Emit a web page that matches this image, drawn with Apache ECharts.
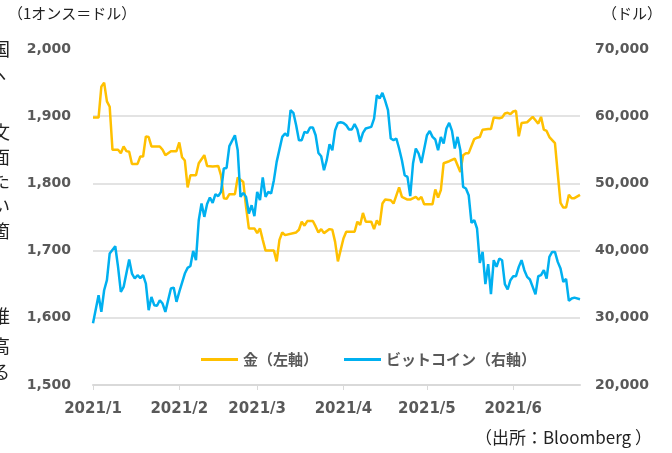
<!DOCTYPE html>
<html>
<head>
<meta charset="utf-8">
<script src="https://cdn.jsdelivr.net/npm/echarts@6/dist/echarts.min.js"></script>
<style>
  html, body { margin: 0; padding: 0; background: #fff; }
  #main { width: 672px; height: 453px; }
</style>
</head>
<body>
<div id="main"></div>
<script>
// 日数は 2021/1/1 からの経過日
var goldDays = [0,2,3,4,5,6,7,9,10,11,12,13,14,16,17,18,19,20,21,24,25,26,28,30,31,32,33,34,35,37,38,40,41,43,45,46,47,48,49,51,52,54,55,56,58,59,60,61,62,65,66,67,68,69,73,74,75,76,77,79,80,81,82,83,85,86,87,88,90,91,94,95,96,97,98,100,101,102,103,104,105,107,108,110,111,113,114,116,117,118,119,122,123,124,125,126,128,130,132,133,134,135,137,138,139,140,142,143,144,146,147,148,149,150,151,152,153,154,156,158,159,160,161,162,163,164,166,167,168,169,170,171,172,173,175];
var goldValues = [1898,1898,1944,1950,1922,1914,1850,1850,1845,1855,1848,1847,1829,1829,1840,1840,1870,1869,1855,1855,1850,1842,1848,1848,1861,1839,1834,1794,1812,1812,1830,1842,1826,1825,1826,1812,1778,1777,1784,1784,1809,1802,1765,1733,1733,1726,1733,1716,1700,1700,1684,1716,1727,1723,1727,1731,1743,1737,1744,1744,1736,1727,1732,1726,1732,1731,1713,1684,1718,1728,1728,1743,1738,1756,1743,1743,1732,1745,1738,1770,1776,1775,1770,1794,1780,1776,1776,1780,1776,1780,1769,1769,1791,1779,1790,1830,1833,1837,1817,1842,1845,1845,1866,1868,1869,1880,1881,1881,1898,1897,1898,1904,1905,1903,1907,1908,1870,1890,1891,1899,1894,1889,1899,1880,1878,1869,1860,1815,1771,1764,1764,1783,1778,1778,1783];

var btcDays = [0,2,3,4,5,6,8,9,10,11,13,14,15,16,17,18,19,20,21,22,23,24,25,26,28,29,30,31,33,34,35,36,37,38,39,40,41,42,43,44,45,46,47,48,49,51,52,53,54,55,56,57,58,59,60,61,62,63,64,65,66,68,69,70,71,72,73,74,75,76,77,78,79,80,81,82,83,84,85,86,87,88,89,90,91,92,93,94,95,96,97,98,100,101,102,103,104,105,106,107,108,109,110,111,112,113,114,115,116,117,118,120,121,122,123,124,125,126,127,128,129,130,131,132,133,134,135,136,137,138,139,140,141,142,143,144,145,146,147,148,149,150,151,152,153,154,155,156,157,158,159,160,161,162,163,164,165,166,167,168,169,170,171,172,173,175];
var btcValues = [29200,33360,30880,34100,35600,39570,40650,37580,33860,34600,38680,36590,35850,36340,35900,36340,35100,31130,33100,31880,31800,32620,32120,30880,34360,34500,32370,33860,36590,37430,37700,39960,38570,44520,47000,45020,46950,47900,47100,48400,48100,48740,52220,52300,55540,57170,54940,47990,48590,47990,45520,46750,45120,48740,47500,50880,47990,48740,48500,50480,53200,56920,57420,57040,60890,60500,58660,56430,56430,57660,57520,58320,58320,57170,54540,54050,51960,53500,55830,54940,57920,59000,59100,59000,58660,58020,58020,58810,58020,56180,57520,58170,58410,59650,63120,62630,63470,62280,60890,56680,56430,56680,55190,53450,51220,50970,48100,52960,55190,54450,53050,57170,57810,56920,56530,54940,56920,55940,58170,59000,57810,55190,56920,54940,49480,49240,48240,44120,44520,43290,38170,39810,35000,37980,33510,38570,37580,38820,38570,35000,34210,35600,36190,36190,37580,38570,37090,36090,35700,34600,33510,36190,36340,37080,35850,39070,39810,39810,38320,37330,35340,35800,32520,32870,33000,32770];

var monthStartDays = [0, 31, 59, 90, 120, 151];
var monthLabels = ['2021/1', '2021/2', '2021/3', '2021/4', '2021/5', '2021/6'];
var lastDay = 175;

// 左端で切れている隣の本文
var sideText = ['国','ヽ','文','面','た','い','箇','推','高','る'];
var sideTextY = [50,76,133,158,182,207,232,317,347,373];

function pairs(days, values){
    var out = [];
    for (var i = 0; i < days.length; i++) {
        out.push([days[i], values[i]]);
    }
    return out;
}

var labelFont = { color: '#595959', fontFamily: 'DejaVu Sans', fontWeight: 'bold', fontSize: 14 };
var gridCol = '#e3e3e3';

var sideGraphics = sideText.map(function(t, i){
    return {
        type: 'text', left: -8, top: sideTextY[i] - 10,
        style: { text: t, fill: '#222', font: '18px "Noto Sans CJK JP"' }
    };
});

var myChart = echarts.init(document.getElementById('main'));
var option = {
    animation: false,
    backgroundColor: '#fff',
    grid: { left: 93, right: 92, top: 49, bottom: 68 },
    legend: {
        left: 196, top: 347,
        itemWidth: 37, itemHeight: 3, itemGap: 26,
        icon: 'rect',
        textStyle: { color: '#595959', fontFamily: 'Noto Sans CJK JP', fontWeight: 'bold', fontSize: 15 },
        data: ['金（左軸）', 'ビットコイン（右軸）']
    },
    graphic: [
        { type: 'text', left: 8, top: 6,
          style: { text: '（1オンス＝ドル）', fill: '#222', font: '15px "Noto Sans CJK JP"' } },
        { type: 'text', right: 10, top: 6,
          style: { text: '（ドル）', fill: '#222', font: '15px "Noto Sans CJK JP"' } },
        { type: 'text', right: 20, top: 429,
          style: { text: '（出所：Bloomberg ）', fill: '#222', font: '17px "Noto Sans CJK JP"' } }
    ].concat(sideGraphics),
    xAxis: {
        type: 'value',
        min: 0,
        max: lastDay,
        axisLine: { show: true, onZero: false, lineStyle: { color: '#d9d9d9', width: 2 } },
        axisTick: { show: true, customValues: monthStartDays, length: 5, lineStyle: { color: '#d9d9d9', width: 1 } },
        axisLabel: {
            customValues: monthStartDays,
            margin: 17,
            color: '#595959', fontFamily: 'DejaVu Sans', fontWeight: 'bold', fontSize: 15,
            formatter: function(v){
                var i = monthStartDays.indexOf(v);
                return i >= 0 ? monthLabels[i] : '';
            }
        },
        splitLine: { show: false }
    },
    yAxis: [{
        type: 'value', min: 1500, max: 2000, interval: 100,
        axisLine: { show: false }, axisTick: { show: false },
        axisLabel: Object.assign({ margin: 22, formatter: function(v){ return v.toLocaleString('en-US'); } }, labelFont),
        splitLine: { show: true, lineStyle: { width: 2, color: [gridCol, gridCol, gridCol, gridCol, gridCol, 'rgba(0,0,0,0)'] } }
    }, {
        type: 'value', min: 20000, max: 70000, interval: 10000,
        axisLine: { show: false }, axisTick: { show: false },
        axisLabel: Object.assign({ margin: 15, formatter: function(v){ return v.toLocaleString('en-US'); } }, labelFont),
        splitLine: { show: false }
    }],
    series: [{
        name: '金（左軸）',
        type: 'line', yAxisIndex: 0,
        showSymbol: false, symbol: 'none',
        lineStyle: { color: '#FFC000', width: 2.5 },
        itemStyle: { color: '#FFC000' },
        data: pairs(goldDays, goldValues)
    }, {
        name: 'ビットコイン（右軸）',
        type: 'line', yAxisIndex: 1,
        showSymbol: false, symbol: 'none',
        lineStyle: { color: '#00B0F0', width: 2.5 },
        itemStyle: { color: '#00B0F0' },
        data: pairs(btcDays, btcValues)
    }]
};
myChart.setOption(option);
</script>
</body>
</html>
